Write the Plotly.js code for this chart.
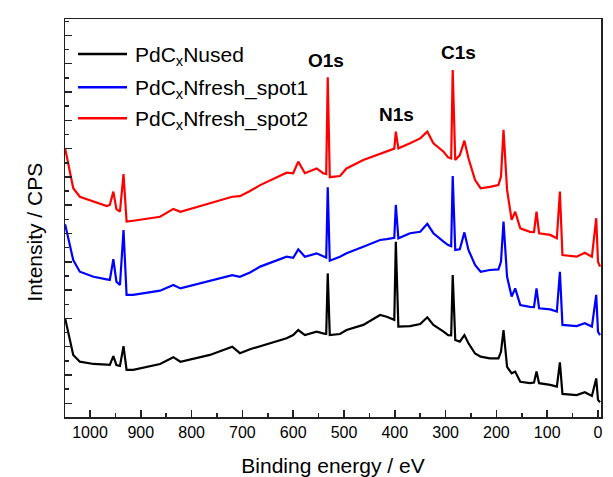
<!DOCTYPE html>
<html>
<head>
<meta charset="utf-8">
<script src="https://cdn.plot.ly/plotly-3.0.1.min.js"></script>
<style>html,body{margin:0;padding:0;background:#fff;}#chart{width:613px;height:477px;}</style>
</head>
<body>
<div id="chart"></div>
<script>
// Binding energy (eV), common to all three spectra
const bindingEnergy = [1049, 1039, 1033, 1020, 993, 967, 961, 954, 948, 941, 934, 928, 915, 862, 836, 822, 764, 720, 705, 685, 665, 632, 613, 600, 590, 577, 554, 541, 535, 532, 528, 508, 495, 462, 429, 416, 406, 401, 398, 393, 370, 350, 336, 324, 304, 295, 289, 286, 281, 272, 263, 255, 242, 231, 213, 196, 191, 186, 179, 170, 163, 153, 134, 126, 121, 116, 94, 81, 75, 70, 42, 26, 12, 3.5, 0, -4];

// Intensity (arbitrary units, offset stacked)
const usedIntensity = [3.01, 2.24, 1.71, 1.47, 1.39, 1.37, 1.36, 1.67, 1.35, 1.32, 2.02, 1.18, 1.18, 1.39, 1.63, 1.47, 1.71, 2.00, 1.77, 1.91, 2.02, 2.18, 2.30, 2.41, 2.59, 2.41, 2.53, 2.47, 2.45, 4.59, 2.41, 2.45, 2.59, 2.77, 3.12, 3.06, 3.00, 2.95, 5.71, 2.71, 2.73, 2.80, 3.04, 2.77, 2.53, 2.41, 2.40, 4.53, 2.24, 2.18, 2.41, 2.12, 1.76, 1.65, 1.59, 1.59, 1.82, 2.59, 1.29, 1.06, 1.12, 0.76, 0.71, 0.73, 1.12, 0.71, 0.65, 0.59, 1.45, 0.33, 0.29, 0.39, 0.26, 0.88, 0.12, 0.04];

const spot1Intensity = [6.33, 5.53, 5.06, 4.65, 4.47, 4.38, 4.36, 5.09, 4.30, 4.18, 6.12, 3.83, 3.83, 3.98, 4.18, 4.06, 4.33, 4.53, 4.47, 4.62, 4.83, 5.05, 5.18, 5.14, 5.44, 5.18, 5.30, 5.20, 5.15, 7.63, 5.04, 5.18, 5.30, 5.53, 5.77, 5.80, 5.83, 5.85, 7.01, 5.83, 6.01, 6.06, 6.34, 6.01, 5.71, 5.59, 5.55, 8.03, 5.42, 5.44, 6.04, 5.42, 4.89, 4.65, 4.71, 4.73, 5.00, 6.42, 4.47, 3.77, 4.06, 3.47, 3.41, 3.40, 4.06, 3.36, 3.32, 3.24, 4.65, 2.77, 2.73, 2.83, 2.71, 3.83, 2.53, 2.41];

const spot2Intensity = [9.01, 8.13, 7.60, 7.30, 7.12, 6.97, 7.01, 7.48, 6.86, 6.77, 8.10, 6.42, 6.45, 6.59, 6.87, 6.77, 7.07, 7.30, 7.32, 7.50, 7.71, 7.98, 8.15, 8.13, 8.54, 8.13, 8.30, 8.13, 8.10, 11.52, 7.99, 8.03, 8.30, 8.60, 8.83, 8.90, 8.98, 9.00, 9.60, 9.01, 9.19, 9.36, 9.60, 9.19, 8.89, 8.69, 8.65, 11.78, 8.60, 8.77, 9.28, 8.66, 7.89, 7.60, 7.65, 7.71, 8.00, 9.66, 7.54, 6.48, 6.77, 6.18, 6.06, 6.05, 6.77, 6.01, 5.95, 5.83, 7.48, 5.24, 5.18, 5.32, 5.18, 6.54, 5.00, 4.83];

const seriesNames = ['PdC<sub>x</sub>Nused', 'PdC<sub>x</sub>Nfresh_spot1', 'PdC<sub>x</sub>Nfresh_spot2'];

// Peak labels
const peakLabels = ['O1s', 'N1s', 'C1s'];
const peakLabelEnergy = [535, 397.6, 275.6];
const peakLabelIntensity = [12.13, 10.22, 12.40];

const FONT = 'Arial, "Liberation Sans", sans-serif';
const colors = ['#000000', '#0000ff', '#ff0000'];
const ys = [usedIntensity, spot1Intensity, spot2Intensity];

const traces = ys.map((y, i) => ({
  x: bindingEnergy, y: y, type: 'scatter', mode: 'lines',
  name: seriesNames[i], showlegend: false,
  line: {color: colors[i], width: 2.2}
}));

const annotations = peakLabels.map((t, i) => ({
  x: peakLabelEnergy[i], y: peakLabelIntensity[i], xref: 'x', yref: 'y',
  text: '<b>' + t + '</b>', showarrow: false,
  font: {family: FONT, size: 19, color: '#000'}
}));

// Hand-placed legend (paper coordinates)
const legendRowY = [0.912, 0.8284, 0.7505];
const shapes = [];
seriesNames.forEach((n, i) => {
  shapes.push({type: 'line', xref: 'paper', yref: 'paper',
    x0: 0.0243, x1: 0.1157, y0: legendRowY[i], y1: legendRowY[i],
    line: {color: colors[i], width: 2.5}});
  annotations.push({x: 0.1269, y: legendRowY[i] - 0.004, xref: 'paper', yref: 'paper',
    xanchor: 'left', yanchor: 'middle', text: n, showarrow: false,
    font: {family: FONT, size: 21, color: '#000'}});
});

// Y axis title as rotated annotation
annotations.push({x: -0.0564, y: 0.465, xref: 'paper', yref: 'paper',
  xanchor: 'center', yanchor: 'middle', textangle: -90,
  text: 'Intensity / CPS', showarrow: false,
  font: {family: FONT, size: 21, color: '#000'}});

const layout = {
  width: 613, height: 477,
  margin: {l: 65, r: 12, t: 19, b: 60},
  paper_bgcolor: '#ffffff', plot_bgcolor: '#ffffff',
  font: {family: FONT, color: '#000'},
  showlegend: false,
  xaxis: {
    range: [1049.2, -5.9], autorange: false,
    showgrid: false, zeroline: false,
    showline: true, linecolor: '#222', linewidth: 1.5, mirror: true,
    ticks: 'inside', ticklen: 7, tickwidth: 1.5, tickcolor: '#222',
    dtick: 100, tick0: 0,
    minor: {ticks: 'inside', ticklen: 4, tickwidth: 1.5, tickcolor: '#222', dtick: 50, showgrid: false},
    tickfont: {family: FONT, size: 16, color: '#000'},
    title: {text: 'Binding energy / eV', font: {family: FONT, size: 21, color: '#000'}, standoff: 18}
  },
  yaxis: {
    range: [-0.484, 13.58], autorange: false,
    showgrid: false, zeroline: false,
    showline: true, linecolor: '#222', linewidth: 1.5, mirror: true,
    ticks: 'inside', ticklen: 7, tickwidth: 1.5, tickcolor: '#222',
    dtick: 1, tick0: 0, showticklabels: false,
    minor: {ticks: 'inside', ticklen: 4, tickwidth: 1.5, tickcolor: '#222', dtick: 0.5, showgrid: false}
  },
  shapes: shapes,
  annotations: annotations
};

Plotly.newPlot('chart', traces, layout, {displayModeBar: false, staticPlot: true});
</script>
</body>
</html>
